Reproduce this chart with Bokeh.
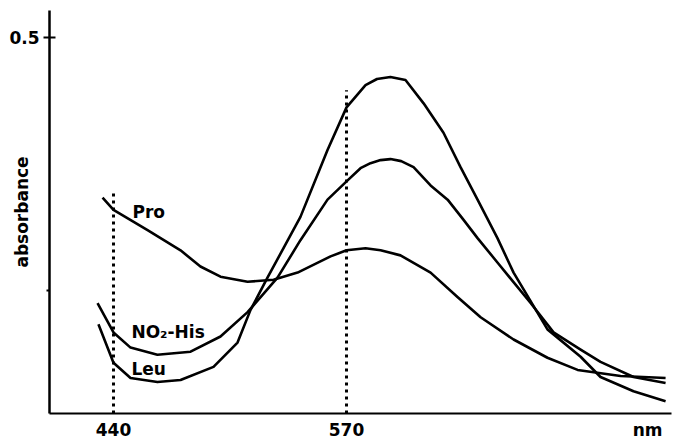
from bokeh.plotting import figure
from bokeh.models import Range1d, FixedTicker, Label
from bokeh.embed import file_html
from bokeh.resources import INLINE

# ---- data (wavelength in nm, absorbance) ----
leu_nm = [431.6, 440, 449.5, 464.5, 477.4, 495.8, 509.2, 516.4, 525.9, 544.3, 559.4, 570,
          580.6, 587.0, 594.5, 602.9, 613.0, 624.1, 633.6, 643.1, 654.2, 663.2, 682.1, 700.6,
          711.7, 730.1, 748.0]
leu_abs = [0.217, 0.179, 0.164, 0.160, 0.162, 0.175, 0.199, 0.231, 0.263, 0.323, 0.389, 0.431,
           0.453, 0.459, 0.461, 0.458, 0.435, 0.406, 0.372, 0.340, 0.302, 0.268, 0.212, 0.185,
           0.165, 0.151, 0.141]

no2his_nm = [431.1, 440, 449.5, 464.5, 483.0, 499.7, 514.8, 531.5, 544.3, 559.4, 570.6, 577.8,
             583.4, 589.0, 594.5, 600.5, 607.4, 616.9, 626.4, 635.3, 643.1, 654.2, 672.7, 685.5,
             700.6, 711.7, 730.1, 748.0]
no2his_abs = [0.238, 0.209, 0.194, 0.187, 0.190, 0.205, 0.229, 0.263, 0.300, 0.340, 0.359, 0.371,
              0.376, 0.379, 0.380, 0.378, 0.372, 0.354, 0.340, 0.320, 0.302, 0.278, 0.238, 0.209,
              0.192, 0.180, 0.165, 0.159]

pro_nm = [433.9, 440, 459.0, 477.4, 488.5, 499.7, 514.8, 529.3, 542.7, 561.1, 570, 580.6,
          589.0, 600.1, 616.9, 631.9, 644.8, 663.2, 682.1, 698.9, 722.9, 748.0]
pro_abs = [0.342, 0.330, 0.310, 0.290, 0.274, 0.264, 0.259, 0.261, 0.268, 0.284, 0.290, 0.292,
           0.290, 0.285, 0.268, 0.244, 0.224, 0.202, 0.184, 0.172, 0.166, 0.164]

marker_nm = [440, 570]
marker_top = [0.349, 0.448]

x_ticks = [440, 570, 738]
x_tick_labels = {738: "nm"}
y_ticks = [0.5]
y_minor_ticks = [0.25]

FONT = "DejaVu Sans"

x_lo, x_hi = 404.3, 751.3
y_lo, y_hi = 0.129, 0.5266

p = figure(width=673, height=442, output_backend="svg", toolbar_location=None,
           x_range=Range1d(x_lo, x_hi), y_range=Range1d(y_lo, y_hi),
           min_border_left=49, min_border_right=2, min_border_top=10, min_border_bottom=28)
p.outline_line_color = None
p.xgrid.visible = False
p.ygrid.visible = False
p.background_fill_color = "white"
p.border_fill_color = "white"

# dotted reference lines
p.segment(x0=marker_nm, y0=[y_lo] * len(marker_nm), x1=marker_nm, y1=marker_top,
          line_color="black", line_width=3, line_dash="3 4")

for xs, ys in [(leu_nm, leu_abs), (no2his_nm, no2his_abs), (pro_nm, pro_abs)]:
    p.line(xs, ys, line_color="black", line_width=2.6, line_join="round")

# axes
xa = p.xaxis[0]
xa.ticker = FixedTicker(ticks=x_ticks)
xa.major_label_overrides = x_tick_labels
xa.major_tick_line_color = None
xa.major_tick_out = 0
xa.major_tick_in = 0
xa.minor_tick_line_color = None
xa.minor_tick_out = 0
xa.axis_line_width = 2.2
xa.major_label_standoff = 6
xa.major_label_text_font = FONT
xa.major_label_text_font_style = "bold"
xa.major_label_text_font_size = "17px"
xa.major_label_text_color = "black"

ya = p.yaxis[0]
ya.ticker = FixedTicker(ticks=y_ticks, minor_ticks=y_minor_ticks)
ya.axis_line_width = 2.5
ya.major_tick_in = 6
ya.major_tick_out = 6
ya.major_tick_line_width = 2
ya.minor_tick_in = 0
ya.minor_tick_out = 3
ya.minor_tick_line_width = 2
ya.major_label_standoff = 4
ya.major_label_text_font = FONT
ya.major_label_text_font_style = "bold"
ya.major_label_text_font_size = "17px"
ya.major_label_text_color = "black"
ya.axis_label = "absorbance"
ya.axis_label_standoff = -26
ya.axis_label_text_font = FONT
ya.axis_label_text_font_style = "bold"
ya.axis_label_text_font_size = "17px"
ya.axis_label_text_color = "black"

def add_label(txt, x, y):
    p.add_layout(Label(x=x, y=y, text=txt, text_font=FONT, text_font_style="bold",
                       text_font_size="17px", text_color="black", text_baseline="middle"))

add_label("Pro", 450.6, 0.328)
add_label("NO\u2082-His", 450.0, 0.209)
add_label("Leu", 450.0, 0.173)

open("out.html", "w").write(file_html(p, INLINE))
